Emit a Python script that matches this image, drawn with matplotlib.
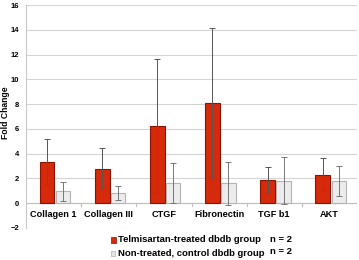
import matplotlib as mpl
mpl.use('Agg')
import matplotlib.pyplot as plt
import numpy as np

categories = ['Collagen 1', 'Collagen III', 'CTGF', 'Fibronectin', 'TGF b1', 'AKT']
telmi_mean = [3.3, 2.8, 6.25, 8.05, 1.85, 2.3]
telmi_err = [1.85, 1.65, 5.4, 6.1, 1.05, 1.35]
ctrl_mean = [0.95, 0.83, 1.6, 1.6, 1.83, 1.8]
ctrl_err = [0.8, 0.6, 1.62, 1.76, 1.93, 1.2]
legend_labels = ['Telmisartan-treated dbdb group', 'Non-treated, control dbdb group']
legend_n = ['n = 2', 'n = 2']

plt.rcParams['font.family'] = ['Liberation Sans', 'DejaVu Sans']
plt.rcParams['font.weight'] = 'bold'

fig = plt.figure(figsize=(3.59, 2.6), dpi=100)
ax = fig.add_axes([26/359, 1-228/260, 331/359, 223/260])

x = np.arange(len(categories))
w = 0.27
ax.bar(x - 0.12, telmi_mean, w, color='#d62a0c', edgecolor='#8a1400', linewidth=0.8, zorder=3)
ax.errorbar(x - 0.12, telmi_mean, yerr=telmi_err, fmt='none', ecolor='#555555',
            elinewidth=0.7, capsize=2, capthick=0.7, zorder=4)
ax.bar(x + 0.17, ctrl_mean, 0.26, color='#ececec', edgecolor='#b4b4b4', linewidth=0.8, zorder=3)
ax.errorbar(x + 0.17, ctrl_mean, yerr=ctrl_err, fmt='none', ecolor='#777777',
            elinewidth=0.7, capsize=2, capthick=0.7, zorder=4)

ax.set_xlim(-0.5, len(categories) - 0.5)
ax.set_ylim(-2, 16)
ax.set_yticks(np.arange(-2, 17, 2))
ax.tick_params(axis='y', labelsize=5.5, length=0, pad=5)
ax.set_xticks([])
ax.grid(axis='y', color='#d4d4d4', linewidth=0.8, zorder=0)
for s in ['top', 'right', 'bottom']:
    ax.spines[s].set_visible(False)
ax.spines['left'].set_color('#c8c8c8')
ax.axhline(0, color='#c0c0c0', linewidth=0.8, zorder=2)
for b in np.arange(0.5, len(categories) - 0.5):
    ax.plot([b, b], [0, -0.25], color='#c0c0c0', linewidth=0.8, zorder=2)

for i, c in enumerate(categories):
    ax.text(x[i], -0.95, c, ha='center', va='center', fontsize=6.6, fontweight='bold')

fig.text(6/359, 1-113/260, 'Fold Change', rotation=90, fontsize=6.2, fontweight='bold',
         ha='center', va='center')

# legend
fig.patches.append(plt.Rectangle((111/359, 1-243/260), 5/359, 6/260, transform=fig.transFigure,
                                 facecolor='#d62a0c', edgecolor='#8a1400', linewidth=0.5))
fig.patches.append(plt.Rectangle((111/359, 1-256/260), 4/359, 5/260, transform=fig.transFigure,
                                 facecolor='#e4e4e4', edgecolor='#b0b0b0', linewidth=0.5))
fig.text(118/359, 1-240/260, legend_labels[0], fontsize=6.8, fontweight='bold', va='center')
fig.text(118/359, 1-253/260, legend_labels[1], fontsize=6.8, fontweight='bold', va='center')
fig.text(270/359, 1-239/260, legend_n[0], fontsize=6.8, fontweight='bold', va='center')
fig.text(270/359, 1-252/260, legend_n[1], fontsize=6.8, fontweight='bold', va='center')

plt.savefig('out.png', dpi=100)
